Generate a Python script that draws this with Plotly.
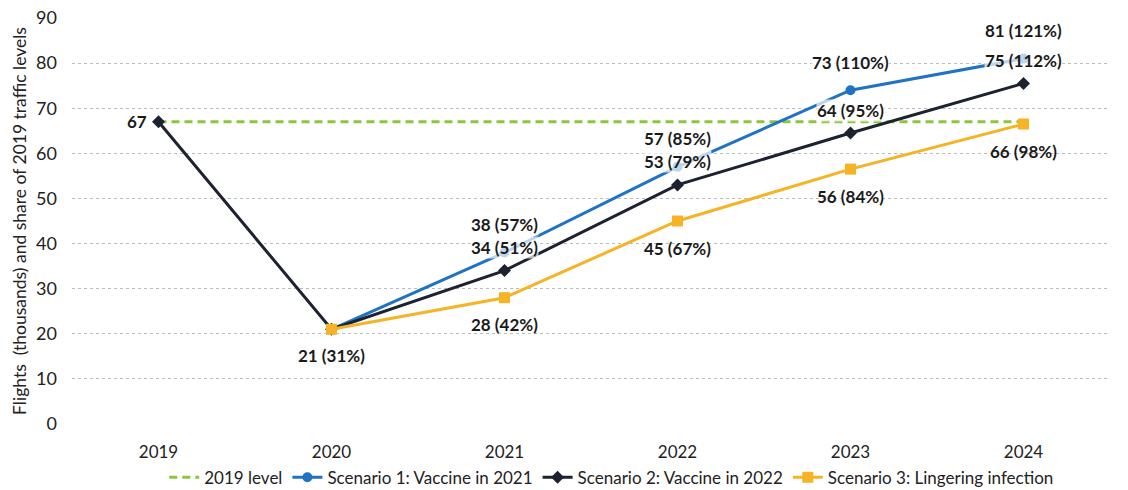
import plotly.graph_objects as go

years = ["2019", "2020", "2021", "2022", "2023", "2024"]
level_2019 = [67, 67, 67, 67, 67, 67]
scenario1 = [None, 21, 38, 57, 74, 81]
scenario2 = [67, 21, 34, 53, 64.5, 75.5]
scenario3 = [None, 21, 28, 45, 56.5, 66.5]

labels1 = [None, None, "38 (57%)", "57 (85%)", "73 (110%)", "81 (121%)"]
labels2 = ["67", "21 (31%)", "34 (51%)", "53 (79%)", "64 (95%)", "75 (112%)"]
labels3 = [None, None, "28 (42%)", "45 (67%)", "56 (84%)", "66 (98%)"]

BLUE = "#1f72c4"
BLACK = "#1c2230"
YELLOW = "#f5b325"
GREEN = "#8cc63e"
FONT = "Lato"

fig = go.Figure()
fig.add_trace(go.Scatter(x=years, y=level_2019, name="2019 level", mode="lines",
                         line=dict(color=GREEN, width=3, dash="8px,5px")))
fig.add_trace(go.Scatter(x=years, y=scenario1, name="Scenario 1: Vaccine in 2021", mode="lines+markers",
                         line=dict(color=BLUE, width=3), marker=dict(symbol="circle", size=10, color=BLUE)))
fig.add_trace(go.Scatter(x=years, y=scenario2, name="Scenario 2: Vaccine in 2022", mode="lines+markers",
                         line=dict(color=BLACK, width=3), marker=dict(symbol="diamond", size=10, color=BLACK)))
fig.add_trace(go.Scatter(x=years, y=scenario3, name="Scenario 3: Lingering infection", mode="lines+markers",
                         line=dict(color=YELLOW, width=3), marker=dict(symbol="square", size=11, color=YELLOW)))

ann_font = dict(family=FONT, size=17, color="#1a1a1a")
for i, (val, lab) in enumerate(zip(scenario1, labels1)):
    if lab:
        fig.add_annotation(x=i, y=val, text=f"<b>{lab}</b>", showarrow=False, yshift=28,
                           font=ann_font, bgcolor="rgba(255,255,255,0.7)", borderpad=0)
for i, (val, lab) in enumerate(zip(scenario2, labels2)):
    if i == 0:
        fig.add_annotation(x=i, y=val, text=f"<b>{lab}</b>", showarrow=False, xshift=-22,
                           font=ann_font)
    elif i == 1:
        fig.add_annotation(x=i, y=val, text=f"<b>{lab}</b>", showarrow=False, yshift=-26,
                           font=ann_font)
    else:
        fig.add_annotation(x=i, y=val, text=f"<b>{lab}</b>", showarrow=False, yshift=23,
                           font=ann_font, bgcolor="rgba(255,255,255,0.7)", borderpad=0)
for i, (val, lab) in enumerate(zip(scenario3, labels3)):
    if lab:
        fig.add_annotation(x=i, y=val, text=f"<b>{lab}</b>", showarrow=False, yshift=-27,
                           font=ann_font)

fig.update_layout(
    width=1128, height=490,
    margin=dict(l=72, r=18, t=18, b=66, autoexpand=False),
    plot_bgcolor="white", paper_bgcolor="white",
    font=dict(family=FONT, size=16, color="#222222"),
    showlegend=True,
    legend=dict(orientation="h", x=0.52, xanchor="center", yref="container", y=0.025,
                yanchor="middle",
                font=dict(family=FONT, size=17, color="#222222"),
                traceorder="normal"),
    xaxis=dict(type="category", categoryorder="array", categoryarray=years,
               range=[-0.5, 5.5], showgrid=False, showline=False, zeroline=False,
               automargin=False, ticks="", ticklabelstandoff=16, tickfont=dict(size=17)),
    yaxis=dict(range=[0, 90], dtick=10, showgrid=True, gridcolor="#bbbbbb", griddash="dot",
               gridwidth=1, zeroline=False, showline=False, ticks="", ticklabelstandoff=14,
               automargin=False, tickfont=dict(size=18),
               title=dict(text="Flights  (thousands) and share of 2019 traffic levels",
                          font=dict(size=17.5), standoff=4)),
)

fig.write_html("out.html")
